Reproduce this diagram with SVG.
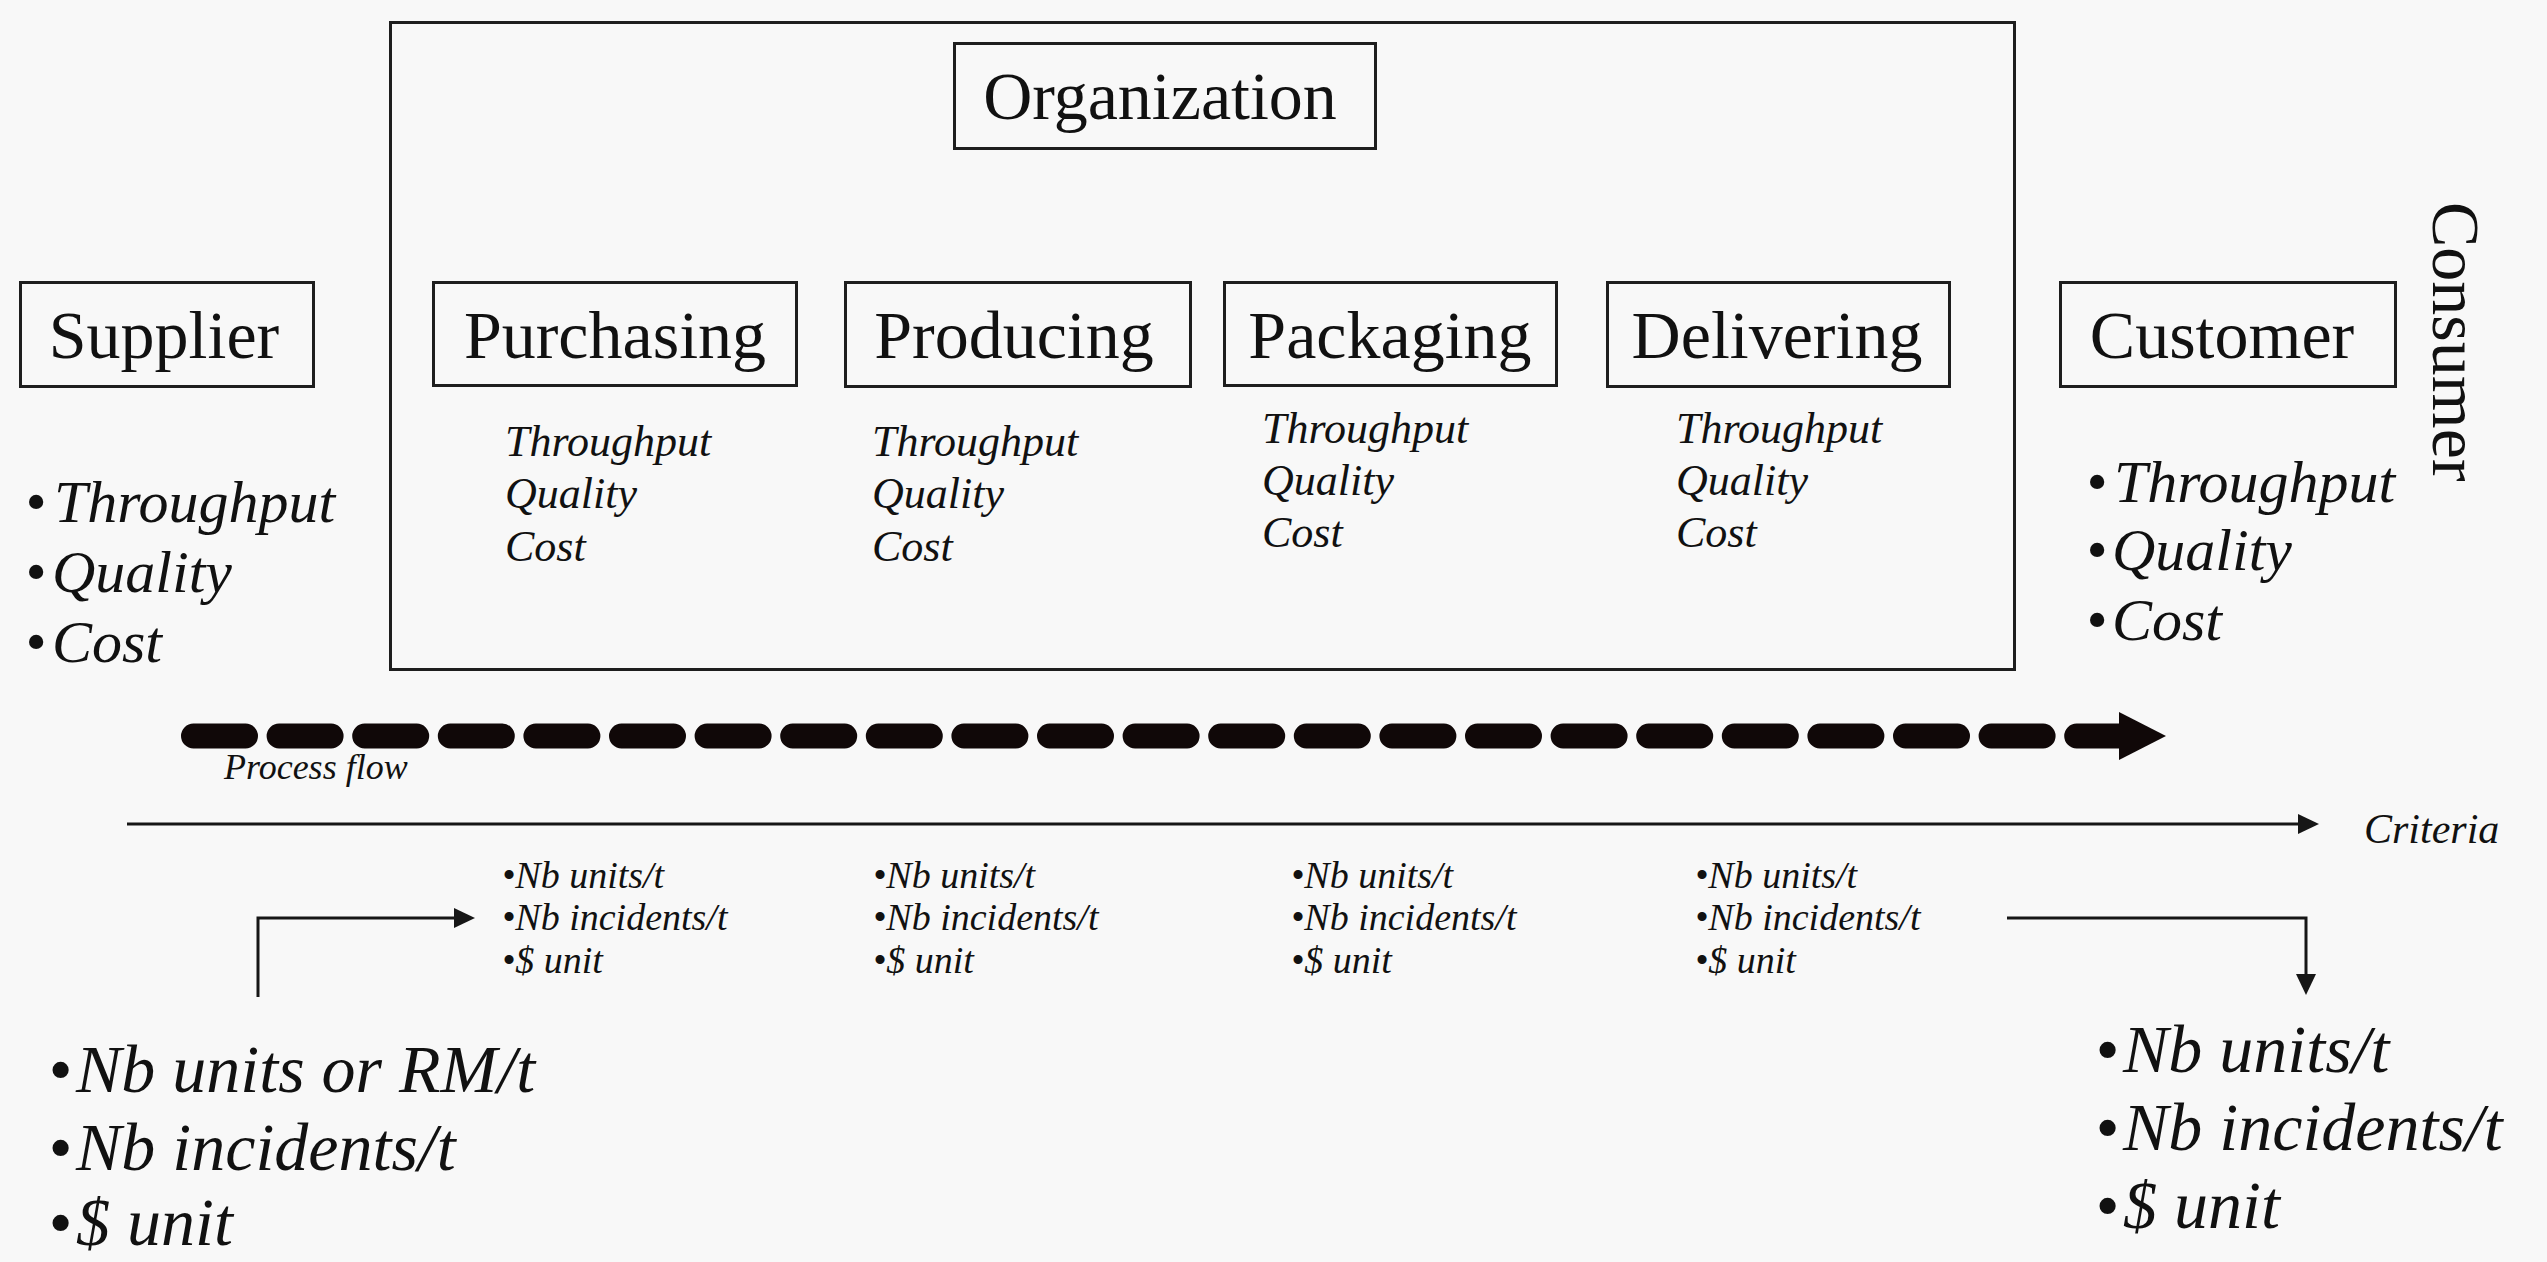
<svg xmlns="http://www.w3.org/2000/svg" width="2547" height="1262" viewBox="0 0 2547 1262">
  <style>
    .box { fill: none; stroke: #1e1e1e; stroke-width: 3; }
    .lbl { font-family: "Liberation Serif", "Times New Roman", serif; font-size: 68px; fill: #111; }
    .it { font-family: "Liberation Serif", "Times New Roman", serif; font-style: italic; fill: #111; }
    .sub { font-size: 44px; }
    .side { font-size: 60px; }
    .crit { font-size: 38px; }
    .big { font-size: 68px; }
    .thin { fill: none; stroke: #161616; stroke-width: 3; }
  </style>
  <defs>
    <marker id="arrowThin" viewBox="0 0 21 20" markerWidth="21" markerHeight="20" refX="11" refY="10" markerUnits="userSpaceOnUse" orient="auto">
      <path d="M0,0 L21,10 L0,20 Z" fill="#161616"/>
    </marker>
  </defs>

  <rect width="2547" height="1262" fill="#f8f8f8"/>

  <!-- organization frame -->
  <g id="organization">
    <rect class="box" x="390.5" y="22.5" width="1624" height="647"/>
    <rect class="box" x="954.5" y="43.5" width="421" height="105"/>
    <text class="lbl" x="1160" y="119" text-anchor="middle">Organization</text>
  </g>

  <g id="supplier">
    <rect class="box" x="20.5" y="282.5" width="293" height="104"/>
    <text class="lbl" x="164" y="358" text-anchor="middle">Supplier</text>
    <text class="it side" x="25" y="522">•<tspan x="54">Throughput</tspan></text>
    <text class="it side" x="25" y="592">•<tspan x="52">Quality</tspan></text>
    <text class="it side" x="25" y="662">•<tspan x="52">Cost</tspan></text>
  </g>

  <g id="purchasing">
    <rect class="box" x="433.5" y="282.5" width="363" height="103"/>
    <text class="lbl" x="615" y="358" text-anchor="middle">Purchasing</text>
    <text class="it sub" x="505" y="456">Throughput</text>
    <text class="it sub" x="505" y="508">Quality</text>
    <text class="it sub" x="505" y="561">Cost</text>
  </g>

  <g id="producing">
    <rect class="box" x="845.5" y="282.5" width="345" height="104"/>
    <text class="lbl" x="1014" y="358" text-anchor="middle">Producing</text>
    <text class="it sub" x="872" y="456">Throughput</text>
    <text class="it sub" x="872" y="508">Quality</text>
    <text class="it sub" x="872" y="561">Cost</text>
  </g>

  <g id="packaging">
    <rect class="box" x="1224.5" y="282.5" width="332" height="103"/>
    <text class="lbl" x="1390" y="358" text-anchor="middle">Packaging</text>
    <text class="it sub" x="1262" y="443">Throughput</text>
    <text class="it sub" x="1262" y="495">Quality</text>
    <text class="it sub" x="1262" y="547">Cost</text>
  </g>

  <g id="delivering">
    <rect class="box" x="1607.5" y="282.5" width="342" height="104"/>
    <text class="lbl" x="1777" y="358" text-anchor="middle">Delivering</text>
    <text class="it sub" x="1676" y="443">Throughput</text>
    <text class="it sub" x="1676" y="495">Quality</text>
    <text class="it sub" x="1676" y="547">Cost</text>
  </g>

  <g id="customer">
    <rect class="box" x="2060.5" y="282.5" width="335" height="104"/>
    <text class="lbl" x="2222" y="358" text-anchor="middle">Customer</text>
    <text class="it side" x="2086" y="502">•<tspan x="2114">Throughput</tspan></text>
    <text class="it side" x="2086" y="570">•<tspan x="2112">Quality</tspan></text>
    <text class="it side" x="2086" y="640">•<tspan x="2112">Cost</tspan></text>
  </g>

  <g id="consumer">
    <text class="lbl" transform="translate(2433,202) rotate(90)">Consumer</text>
  </g>

  <!-- criteria per stage -->
  <g id="criteria-purchasing">
    <text class="it crit" x="502" y="888">•Nb units/t</text>
    <text class="it crit" x="502" y="930">•Nb incidents/t</text>
    <text class="it crit" x="502" y="973">•$ unit</text>
  </g>
  <g id="criteria-producing">
    <text class="it crit" x="873" y="888">•Nb units/t</text>
    <text class="it crit" x="873" y="930">•Nb incidents/t</text>
    <text class="it crit" x="873" y="973">•$ unit</text>
  </g>
  <g id="criteria-packaging">
    <text class="it crit" x="1291" y="888">•Nb units/t</text>
    <text class="it crit" x="1291" y="930">•Nb incidents/t</text>
    <text class="it crit" x="1291" y="973">•$ unit</text>
  </g>
  <g id="criteria-delivering">
    <text class="it crit" x="1695" y="888">•Nb units/t</text>
    <text class="it crit" x="1695" y="930">•Nb incidents/t</text>
    <text class="it crit" x="1695" y="973">•$ unit</text>
  </g>

  <g id="criteria-supplier">
    <text class="it big" x="48" y="1092">•<tspan x="76">Nb units or RM/t</tspan></text>
    <text class="it big" x="48" y="1170">•<tspan x="76">Nb incidents/t</tspan></text>
    <text class="it big" x="48" y="1245">•<tspan x="76">$ unit</tspan></text>
  </g>
  <g id="criteria-customer">
    <text class="it big" x="2095" y="1072">•<tspan x="2123">Nb units/t</tspan></text>
    <text class="it big" x="2095" y="1150">•<tspan x="2123">Nb incidents/t</tspan></text>
    <text class="it big" x="2095" y="1228">•<tspan x="2123">$ unit</tspan></text>
  </g>

  <g id="connectors">
    <!-- process flow: heavy dashed arrow -->
    <path d="M193.5,736 H2119" fill="none" stroke="#100808" stroke-width="25" stroke-linecap="round" stroke-dasharray="52 33.6"/>
    <polygon points="2119,712 2166,736 2119,760" fill="#100808"/>
    <text class="it" x="224" y="779" font-size="36">Process flow</text>

    <!-- criteria axis -->
    <path class="thin" d="M127,824 H2309" marker-end="url(#arrowThin)"/>
    <text class="it" x="2364" y="843" font-size="42">Criteria</text>

    <!-- supplier criteria into the first stage -->
    <path class="thin" d="M258,997 V918 H465" marker-end="url(#arrowThin)"/>
    <!-- last stage criteria out to the customer -->
    <path class="thin" d="M2007,918 H2306 V985" marker-end="url(#arrowThin)"/>
  </g>
</svg>
